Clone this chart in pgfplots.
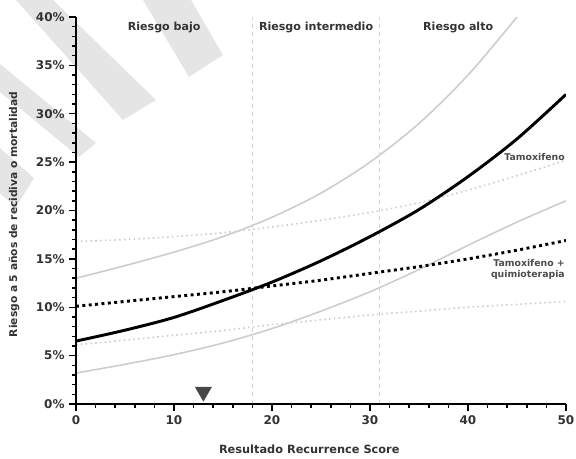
\documentclass[border=0pt]{standalone}
\usepackage{fontspec}
\setmainfont{DejaVu Sans}
\usepackage{pgfplots}
\pgfplotsset{compat=1.18}
\definecolor{txt}{HTML}{333333}
\definecolor{wm}{HTML}{E5E5E5}
\definecolor{ci}{HTML}{CDCDCD}
\definecolor{vl}{HTML}{D5D5D5}
\begin{document}
\begin{tikzpicture}
% watermark stripes
\fill[wm] (-45pt,303pt) -- (-17.25pt,303pt) -- (60pt,228pt) -- (35.25pt,213pt) -- cycle;
\fill[wm] (50.25pt,303pt) -- (86.25pt,303pt) -- (110.25pt,261.75pt) -- (84.75pt,245.25pt) -- cycle;
\fill[wm] (-57pt,255pt) -- (15pt,195.75pt) -- (2.25pt,185.25pt) -- (-57pt,234pt) -- cycle;
\fill[wm] (-57pt,192pt) -- (-31.5pt,169.5pt) -- (-45pt,147.75pt) -- (-57pt,158pt) -- cycle;
\begin{axis}[
  at={(0,0)}, anchor=south west,
  scale only axis, width=367.5pt, height=290.25pt,
  xmin=0, xmax=50, ymin=0, ymax=40,
  axis lines=left,
  axis line style={line width=1.5pt, -},
  axis on top,
  tick align=outside,
  every tick/.style={black, line width=1.1pt},
  major tick length=5pt, minor tick length=3pt,
  xtick={0,10,20,30,40,50},
  minor x tick num=4,
  ytick={0,5,10,15,20,25,30,35,40},
  yticklabels={0\%,5\%,10\%,15\%,20\%,25\%,30\%,35\%,40\%},
  minor y tick num=4,
  /pgf/number format/assume math mode=true,
  ticklabel style={font=\fontsize{9}{10}\selectfont\bfseries, text=txt},
  xlabel={Resultado Recurrence Score},
  ylabel={Riesgo a 5 años de recidiva o mortalidad},
  xlabel style={at={(axis description cs:0.476,-0.116)}, anchor=center, font=\fontsize{8.5}{10}\selectfont\bfseries, text=txt},
  ylabel style={at={(axis description cs:-0.1265,0.49)}, anchor=center, font=\fontsize{8}{10}\selectfont\bfseries, text=txt},
]
% confidence bands, Tamoxifeno (solid light gray)
\addplot[ci, line width=1.2pt, smooth] coordinates {
(0,13.0)(5,14.3)(10,15.7)(15,17.3)(20,19.3)(25,21.8)(30,25.0)(35,29.0)(40,34.0)(45,40.0)(47,42.6)};
\addplot[ci, line width=1.2pt, smooth] coordinates {
(0,3.2)(5,4.1)(10,5.1)(15,6.3)(20,7.8)(25,9.6)(30,11.6)(35,13.9)(40,16.4)(45,18.8)(50,21.0)};
% confidence bands, Tamoxifeno + quimioterapia (dotted light gray)
\addplot[ci, line width=1.2pt, dash pattern=on 1.2pt off 2.4pt, smooth] coordinates {
(0,16.8)(5,17.0)(10,17.3)(15,17.7)(20,18.3)(25,19.0)(30,19.8)(35,20.8)(40,22.1)(45,23.6)(50,25.2)};
\addplot[ci, line width=1.2pt, dash pattern=on 1.2pt off 2.4pt, smooth] coordinates {
(0,6.1)(5,6.6)(10,7.1)(15,7.6)(20,8.2)(25,8.7)(30,9.2)(35,9.6)(40,10.0)(45,10.3)(50,10.6)};
% risk group boundaries
\addplot[vl, line width=0.8pt, dashed] coordinates {(18,0)(18,40)};
\addplot[vl, line width=0.8pt, dashed] coordinates {(31,0)(31,40)};
% main curves
\addplot[black, line width=2.2pt, smooth] coordinates {
(0,6.5)(5,7.63)(10,8.95)(15,10.7)(20,12.6)(25,14.8)(30,17.3)(35,20.1)(40,23.5)(45,27.4)(50,32.0)};
\addplot[black, line width=2.2pt, dash pattern=on 2.2pt off 2.6pt, smooth] coordinates {
(0,10.1)(5,10.6)(10,11.1)(15,11.6)(20,12.2)(25,12.8)(30,13.5)(35,14.2)(40,15.0)(45,15.9)(50,16.9)};
% patient marker
\addplot[only marks, mark=triangle*, mark size=7pt, mark options={rotate=180, fill=black!72, draw=black!72}] coordinates {(13,1.27)};
% texts
\node[font=\fontsize{8.3}{10}\selectfont\bfseries, text=txt] at (axis cs:9,38.9) {Riesgo bajo};
\node[font=\fontsize{8.3}{10}\selectfont\bfseries, text=txt] at (axis cs:24.5,38.9) {Riesgo intermedio};
\node[font=\fontsize{8.3}{10}\selectfont\bfseries, text=txt] at (axis cs:39,38.9) {Riesgo alto};
\node[font=\fontsize{7}{8.5}\selectfont\bfseries, text=black!70, anchor=east, inner sep=0pt] at (axis cs:49.9,25.5) {Tamoxifeno};
\node[font=\fontsize{7}{8.5}\selectfont\bfseries, text=black!70, anchor=east, align=right, inner sep=0pt] at (axis cs:49.9,13.9) {Tamoxifeno +\\quimioterapia};
\end{axis}
\pgfresetboundingbox
\path[use as bounding box] (-57pt,-40.5pt) rectangle (375pt,303pt);
\end{tikzpicture}
\end{document}
